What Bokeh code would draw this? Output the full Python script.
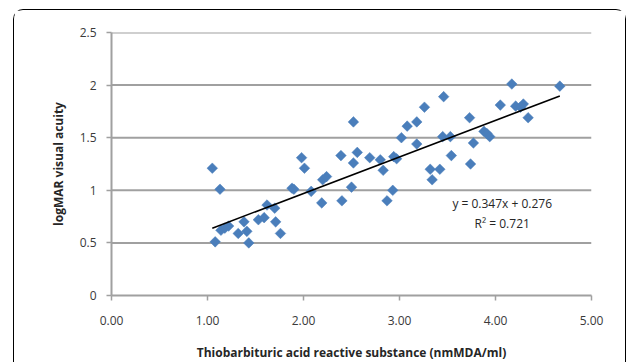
import math
from bokeh.plotting import figure
from bokeh.models import Range1d, FixedTicker, Label, ColumnDataSource
from bokeh.embed import file_html
from bokeh.resources import INLINE

# ---- data ----
tbars = [1.05, 1.13, 1.08, 1.14, 1.18, 1.22, 1.32, 1.38, 1.41, 1.43,
         1.53, 1.59, 1.62, 1.70, 1.71, 1.76, 1.88, 1.90, 1.98, 2.01,
         2.08, 2.19, 2.20, 2.24, 2.39, 2.40, 2.50, 2.52, 2.52, 2.56,
         2.69, 2.80, 2.83, 2.87, 2.93, 2.94, 2.97, 3.02, 3.08, 3.18,
         3.26, 3.18, 3.32, 3.34, 3.42, 3.45, 3.53, 3.54, 3.46, 3.73,
         3.77, 3.74, 3.88, 3.91, 3.94, 4.05, 4.17, 4.21, 4.26, 4.29,
         4.34, 4.67]
logmar = [1.21, 1.01, 0.51, 0.62, 0.64, 0.66, 0.59, 0.70, 0.61, 0.50,
          0.72, 0.74, 0.86, 0.83, 0.70, 0.59, 1.02, 1.01, 1.31, 1.21,
          0.99, 0.88, 1.10, 1.13, 1.33, 0.90, 1.03, 1.26, 1.65, 1.36,
          1.31, 1.29, 1.19, 0.90, 1.00, 1.32, 1.30, 1.50, 1.61, 1.65,
          1.79, 1.44, 1.20, 1.10, 1.20, 1.51, 1.51, 1.33, 1.89, 1.69,
          1.45, 1.25, 1.56, 1.54, 1.51, 1.81, 2.01, 1.80, 1.79, 1.82,
          1.69, 1.99]
slope = 0.347
intercept = 0.276
r_squared = 0.721

x_min, x_max = 0, 5
y_min, y_max = 0, 2.5
x_ticks = [0, 1, 2, 3, 4, 5]
x_tick_labels = ["0.00", "1.00", "2.00", "3.00", "4.00", "5.00"]
y_ticks = [0, 0.5, 1, 1.5, 2, 2.5]
y_tick_labels = ["0", "0.5", "1", "1.5", "2", "2.5"]

x_title = "Thiobarbituric acid reactive substance (nmMDA/ml)"
y_title = "logMAR visual acuity"

FONT = "Open Sans"
GRID = "#a0a0a0"
TEXT = "#3a3a3a"

p = figure(width=613, height=353, output_backend="svg", toolbar_location=None,
           x_range=Range1d(x_min, x_max), y_range=Range1d(y_min, y_max),
           min_border_left=97, min_border_right=36,
           min_border_top=22, min_border_bottom=66)
p.outline_line_color = None
p.styles = {"border": "1.5px solid black", "border-bottom": "none",
            "border-radius": "10px 10px 0 0", "margin-left": "12.5px",
            "margin-top": "8.5px"}

# axes
for ax in (p.xaxis[0], p.yaxis[0]):
    ax.axis_line_color = GRID
    ax.axis_line_width = 2
    ax.major_tick_line_color = GRID
    ax.major_tick_line_width = 1.5
    ax.major_tick_in = 0
    ax.major_tick_out = 5
    ax.minor_tick_line_color = None
    ax.major_label_text_font = FONT
    ax.major_label_text_font_size = "12px"
    ax.major_label_text_color = TEXT
    ax.axis_label_text_font = FONT
    ax.axis_label_text_font_size = "12px"
    ax.axis_label_text_font_style = "bold"
    ax.axis_label_text_color = "#262626"

p.xaxis.ticker = FixedTicker(ticks=x_ticks)
p.xaxis.major_label_overrides = dict(zip(x_ticks, x_tick_labels))
p.xaxis.major_label_standoff = 15
p.xaxis.axis_label = x_title
p.xaxis.axis_label_standoff = 16

p.yaxis.ticker = FixedTicker(ticks=y_ticks)
p.yaxis.major_label_overrides = dict(zip(y_ticks, y_tick_labels))
p.yaxis.major_label_standoff = 10
p.yaxis.axis_label = y_title
p.yaxis.axis_label_standoff = 10

# horizontal gridlines as thin filled bands (2 px high) across the frame
p.xgrid.visible = False
p.ygrid.visible = False
grid_y = [t for t in y_ticks if t > y_min]
p.rect(x=[(x_min + x_max) / 2] * len(grid_y), y=grid_y,
       width=x_max - x_min, height=2, height_units="screen",
       fill_color=GRID, line_color=None)

# points
src = ColumnDataSource(dict(x=tbars, y=logmar))
p.scatter("x", "y", source=src, marker="square", size=7.5, angle=math.pi / 4,
          fill_color="#4a7ebb", line_color="#4a7ebb", line_width=0.5)

# linear trend line from the equation
x0, x1 = min(tbars), max(tbars)
p.line([x0, x1], [slope * x0 + intercept, slope * x1 + intercept],
       line_color="black", line_width=1.6)

# equation text
p.add_layout(Label(x=4.07, y=0.87, text=f"y = {slope}x + {intercept}",
                   text_align="center", text_baseline="middle",
                   text_font=FONT, text_font_size="12px", text_color="#262626"))
p.add_layout(Label(x=4.07, y=0.68, text=f"R\u00b2 = {r_squared}",
                   text_align="center", text_baseline="middle",
                   text_font=FONT, text_font_size="12px", text_color="#262626"))

open("out.html", "w").write(file_html(p, INLINE))
